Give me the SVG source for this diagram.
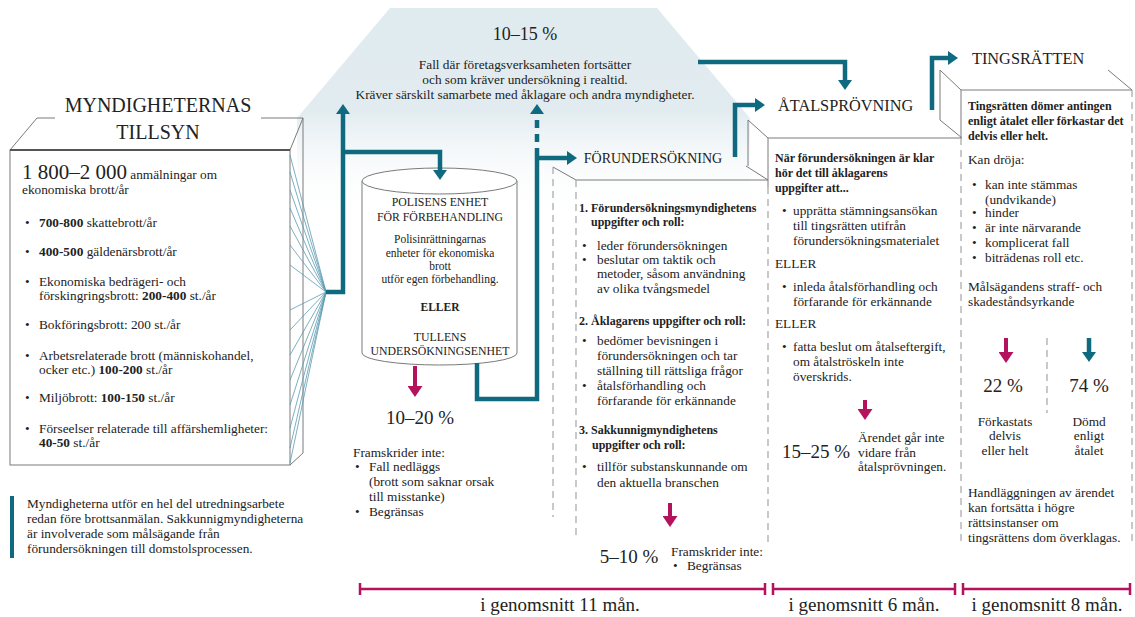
<svg xmlns="http://www.w3.org/2000/svg" width="1135" height="617" viewBox="0 0 1135 617">
<defs>
<style>
text{font-family:"Liberation Serif","DejaVu Serif",serif;fill:#222;}
.b{font-size:13.3px}
.s{font-size:11.5px}
.hb{font-size:12px;font-weight:bold}
.ttl{font-size:16px}
.pct{font-size:19px}
.c{text-anchor:middle}
.edge{stroke:#7a7a7a;stroke-width:1;fill:none}
.dash{stroke:#a5a5a5;stroke-width:1.2;stroke-dasharray:7 5;fill:none}
.teal{stroke:#0f6a80;stroke-width:4.5;fill:none}
.tealdash{stroke:#0f6a80;stroke-width:4.5;fill:none;stroke-dasharray:8 6}
.mag{stroke:#b5125e;stroke-width:4;fill:none}
.fan{stroke:#5b9ab0;stroke-width:0.8;fill:none}
.tl{stroke:#b5125e;stroke-width:2.5;fill:none}
</style>
<linearGradient id="fade" x1="0" y1="8" x2="0" y2="215" gradientUnits="userSpaceOnUse">
<stop offset="0" stop-color="#e0ebef"/>
<stop offset="0.5" stop-color="#e2ecf0"/>
<stop offset="1" stop-color="#ffffff" stop-opacity="0"/>
</linearGradient>
<marker id="aT" viewBox="0 0 10 14" refX="2" refY="7" markerWidth="10" markerHeight="14" markerUnits="userSpaceOnUse" orient="auto"><path d="M0,0 L10,7 L0,14 z" fill="#0f6a80"/></marker>
<marker id="aM" viewBox="0 0 11 15" refX="2" refY="7.5" markerWidth="11" markerHeight="15" markerUnits="userSpaceOnUse" orient="auto"><path d="M0,0 L11,7.5 L0,15 z" fill="#b5125e"/></marker>
</defs>
<rect width="1135" height="617" fill="#ffffff"/>

<g id="realtid">
<polygon points="390,8 657,8 750,118 750,215 297,215 297,118" fill="url(#fade)"/>
<text class="c" x="525" y="40" style="font-size:18px">10–15 %</text>
<text class="b c" x="525" y="69">Fall där företagsverksamheten fortsätter</text>
<text class="b c" x="525" y="84">och som kräver undersökning i realtid.</text>
<text class="b c" x="525" y="99">Kräver särskilt samarbete med åklagare och andra myndigheter.</text>
</g>

<g id="myndigheter">
<rect x="10" y="150" width="280" height="315" fill="#fff" stroke="#7a7a7a"/>
<path class="edge" d="M10,150 L37,118 H55 M261,118 H303 L290,150 M303,118 V453 L290,465"/>
<line x1="10" y1="150" x2="290" y2="150" stroke="#555" stroke-width="1.8"/>
<text class="c" x="158" y="112" style="font-size:20px">MYNDIGHETERNAS</text>
<text class="c" x="158" y="139" style="font-size:20px">TILLSYN</text>
<text x="22" y="179"><tspan style="font-size:21px">1 800–2 000</tspan><tspan class="b"> anmälningar om</tspan></text>
<text class="b" x="22" y="194">ekonomiska brott/år</text>
<g class="b">
<text x="25" y="227">•</text><text x="39" y="227"><tspan font-weight="bold">700-800</tspan> skattebrott/år</text>
<text x="25" y="256">•</text><text x="39" y="256"><tspan font-weight="bold">400-500</tspan> gäldenärsbrott/år</text>
<text x="25" y="286">•</text><text x="39" y="286">Ekonomiska bedrägeri- och</text>
<text x="39" y="300">förskingringsbrott: <tspan font-weight="bold">200-400</tspan> st./år</text>
<text x="25" y="329">•</text><text x="39" y="329">Bokföringsbrott: 200 st./år</text>
<text x="25" y="360">•</text><text x="39" y="360">Arbetsrelaterade brott (människohandel,</text>
<text x="39" y="374">ocker etc.) <tspan font-weight="bold">100-200</tspan> st./år</text>
<text x="25" y="402">•</text><text x="39" y="402">Miljöbrott: <tspan font-weight="bold">100-150</tspan> st./år</text>
<text x="25" y="433">•</text><text x="39" y="433">Förseelser relaterade till affärshemligheter:</text>
<text x="39" y="447"><tspan font-weight="bold">40-50</tspan> st./år</text>
</g>
</g>

<g id="fan">
<path class="fan" d="M290,155 L326,292 M290,172 L326,292 M290,190 L326,292 M290,208 L326,292 M290,226 L326,292 M290,245 L326,292 M290,265 L326,292 M290,310 L326,292 M290,330 L326,292 M290,355 L326,292 M290,380 L326,292 M290,405 L326,292 M290,428 L326,292 M290,448 L326,292 M290,463 L326,292"/>
</g>

<g id="note">
<rect x="10" y="496" width="4" height="62" fill="#0f6a80"/>
<text class="b" x="27" y="508">Myndigheterna utför en hel del utredningsarbete</text>
<text class="b" x="27" y="523">redan före brottsanmälan. Sakkunnigmyndigheterna</text>
<text class="b" x="27" y="538">är involverade som målsägande från</text>
<text class="b" x="27" y="553">förundersökningen till domstolsprocessen.</text>
</g>

<g id="polisen">
<path d="M362,181 V353 A77.5,12 0 0 0 517,353 V181" fill="#fff" stroke="#7a7a7a"/>
<ellipse cx="439.5" cy="181" rx="77.5" ry="13" fill="#fff" stroke="#7a7a7a"/>
<text class="c" x="440" y="206" style="font-size:11.8px">POLISENS ENHET</text>
<text class="c" x="440" y="221" style="font-size:11.8px">FÖR FÖRBEHANDLING</text>
<text class="s c" x="440" y="243">Polisinrättningarnas</text>
<text class="s c" x="440" y="257">enheter för ekonomiska</text>
<text class="s c" x="440" y="270">brott</text>
<text class="s c" x="440" y="283">utför egen förbehandling.</text>
<text class="s c" x="440" y="311" font-weight="bold">ELLER</text>
<text class="c" x="440" y="341" style="font-size:11.8px">TULLENS</text>
<text class="c" x="440" y="355" style="font-size:11.8px">UNDERSÖKNINGSENHET</text>
</g>

<g id="polisen-utfall">
<text class="pct c" x="420" y="424">10–20 %</text>
<text class="b" x="353" y="457">Framskrider inte:</text>
<text class="b" x="355" y="471">•</text><text class="b" x="369" y="471">Fall nedläggs</text>
<text class="b" x="369" y="486">(brott som saknar orsak</text>
<text class="b" x="369" y="501">till misstanke)</text>
<text class="b" x="355" y="516">•</text><text class="b" x="369" y="516">Begränsas</text>
</g>

<g id="forundersokning">
<path class="edge" d="M553,167 L576,180 H768 M746,166 L768,180"/>
<path class="dash" d="M553,167 V517 M576,180 V535 M768,187 V542"/>
<text class="c" x="653" y="163" style="font-size:14px">FÖRUNDERSÖKNING</text>
<text class="hb" x="579" y="212">1. Förundersökningsmyndighetens</text>
<text class="hb" x="591" y="226">uppgifter och roll:</text>
<g class="b">
<text x="582" y="250">•</text><text x="597" y="250">leder förundersökningen</text>
<text x="582" y="264">•</text><text x="597" y="264">beslutar om taktik och</text>
<text x="597" y="278">metoder, såsom användning</text>
<text x="597" y="293">av olika tvångsmedel</text>
</g>
<text class="hb" x="579" y="325">2. Åklagarens uppgifter och roll:</text>
<g class="b">
<text x="582" y="345">•</text><text x="597" y="345">bedömer bevisningen i</text>
<text x="597" y="360">förundersökningen och tar</text>
<text x="597" y="375">ställning till rättsliga frågor</text>
<text x="582" y="390">•</text><text x="597" y="390">åtalsförhandling och</text>
<text x="597" y="405">förfarande för erkännande</text>
</g>
<text class="hb" x="579" y="434">3. Sakkunnigmyndighetens</text>
<text class="hb" x="592" y="449">uppgifter och roll:</text>
<text class="b" x="582" y="471">•</text><text class="b" x="597" y="471">tillför substanskunnande om</text>
<text class="b" x="597" y="487">den aktuella branschen</text>
<text class="pct c" x="629" y="563">5–10 %</text>
<text class="b" x="671" y="556">Framskrider inte:</text>
<text class="b" x="673" y="570">•</text><text class="b" x="687" y="570">Begränsas</text>
</g>

<g id="atalsprovning">
<path class="edge" d="M748,120 L768,138 H962 M748,120 V166 M768,138 V187 M940,120 L962,138"/>
<path class="dash" d="M961,138 V545"/>
<text x="778" y="111" style="font-size:16.3px">ÅTALSPRÖVNING</text>
<text class="hb" x="775" y="162">När förundersökningen är klar</text>
<text class="hb" x="775" y="177">hör det till åklagarens</text>
<text class="hb" x="775" y="192">uppgifter att...</text>
<g class="b">
<text x="782" y="215">•</text><text x="793" y="215">upprätta stämningsansökan</text>
<text x="793" y="230">till tingsrätten utifrån</text>
<text x="793" y="245">förundersökningsmaterialet</text>
<text x="775" y="268">ELLER</text>
<text x="782" y="291">•</text><text x="793" y="291">inleda åtalsförhandling och</text>
<text x="793" y="306">förfarande för erkännande</text>
<text x="775" y="328">ELLER</text>
<text x="782" y="351">•</text><text x="793" y="351">fatta beslut om åtalseftergift,</text>
<text x="793" y="366">om åtalströskeln inte</text>
<text x="793" y="381">överskrids.</text>
<text x="858" y="442">Ärendet går inte</text>
<text x="858" y="457">vidare från</text>
<text x="858" y="471">åtalsprövningen.</text>
</g>
<text class="pct c" x="816" y="458">15–25 %</text>
</g>

<g id="tingsratten">
<path class="edge" d="M940,70 L961,90 H1132 M940,70 V120 M961,90 V138 M1108,70 L1132,90"/>
<path class="dash" d="M1132,90 V545 M1047,338 V413"/>
<text x="972" y="64" style="font-size:16.3px">TINGSRÄTTEN</text>
<text class="hb" x="968" y="110">Tingsrätten dömer antingen</text>
<text class="hb" x="968" y="125">enligt åtalet eller förkastar det</text>
<text class="hb" x="968" y="140">delvis eller helt.</text>
<g class="b">
<text x="968" y="164">Kan dröja:</text>
<text x="972" y="189">•</text><text x="985" y="189">kan inte stämmas</text>
<text x="985" y="204">(undvikande)</text>
<text x="972" y="217">•</text><text x="985" y="217">hinder</text>
<text x="972" y="232">•</text><text x="985" y="232">är inte närvarande</text>
<text x="972" y="247">•</text><text x="985" y="247">komplicerat fall</text>
<text x="972" y="262">•</text><text x="985" y="262">biträdenas roll etc.</text>
<text x="968" y="291">Målsägandens straff- och</text>
<text x="968" y="306">skadeståndsyrkande</text>
<text class="c" x="1005" y="426">Förkastats</text>
<text class="c" x="1005" y="440">delvis</text>
<text class="c" x="1005" y="455">eller helt</text>
<text class="c" x="1089" y="426">Dömd</text>
<text class="c" x="1089" y="440">enligt</text>
<text class="c" x="1089" y="455">åtalet</text>
<text x="968" y="497">Handläggningen av ärendet</text>
<text x="968" y="512">kan fortsätta i högre</text>
<text x="968" y="527">rättsinstanser om</text>
<text x="968" y="542">tingsrättens dom överklagas.</text>
</g>
<text class="pct c" x="1003" y="392">22 %</text>
<text class="pct c" x="1089" y="392">74 %</text>
</g>

<g id="connectors">
<path class="teal" d="M326,292 H343 V112" marker-end="url(#aT)"/>
<path class="teal" d="M343,152 H440 V172" marker-end="url(#aT)"/>
<path class="teal" d="M477,363 V399 H537 V158 H569" marker-end="url(#aT)"/>
<path class="tealdash" d="M537,156 V112" marker-end="url(#aT)"/>
<path class="teal" d="M735,157 V105 H757" marker-end="url(#aT)"/>
<path class="teal" d="M698,62 H845 V82" marker-end="url(#aT)"/>
<path class="teal" d="M932,110 V58 H950" marker-end="url(#aT)"/>
<path class="mag" d="M415,366 V388" marker-end="url(#aM)"/>
<path class="mag" d="M670,503 V518" marker-end="url(#aM)"/>
<path class="mag" d="M865,400 V411" marker-end="url(#aM)"/>
<path class="mag" d="M1006,338 V354" marker-end="url(#aM)"/>
<path class="teal" d="M1089,338 V354" marker-end="url(#aT)"/>
</g>

<g id="timeline">
<path class="tl" d="M360,589 H765 M360,583 V595 M765,583 V595 M773,589 H955 M773,583 V595 M955,583 V595 M963,589 H1130 M963,583 V595 M1130,583 V595"/>
<text class="c" x="560" y="611" style="font-size:19px">i genomsnitt 11 mån.</text>
<text class="c" x="864" y="611" style="font-size:19px">i genomsnitt 6 mån.</text>
<text class="c" x="1047" y="611" style="font-size:19px">i genomsnitt 8 mån.</text>
</g>
</svg>
